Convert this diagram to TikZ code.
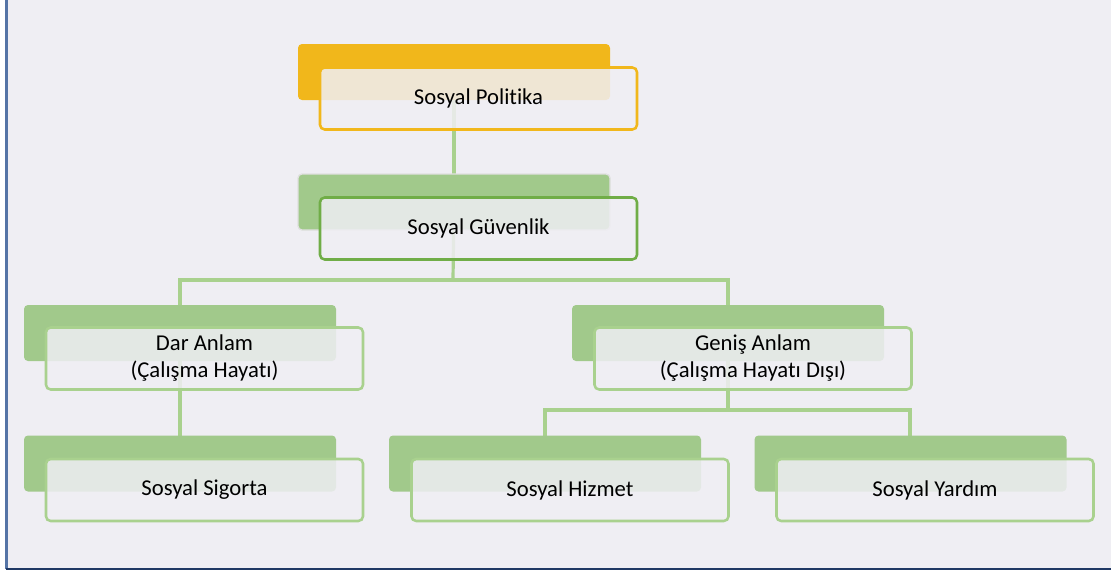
\documentclass[tikz,border=0pt]{standalone}
\usepackage{fontspec}
\setmainfont[Ligatures=NoCommon]{Carlito}
\usetikzlibrary{calc}
\definecolor{canvas}{HTML}{EFEEF3}
\definecolor{gold}{HTML}{F1B71B}
\definecolor{leaf}{HTML}{A1C98B}
\definecolor{leafline}{HTML}{A9D18E}
\definecolor{leafdark}{HTML}{70AD47}
\definecolor{frameblue}{HTML}{5574A6}
\definecolor{framenavy}{HTML}{1F3864}
\tikzset{
  backbox/.style={rectangle, rounded corners=3pt, inner sep=0pt,
    minimum width=234pt, minimum height=42pt, fill=#1},
  frontbox/.style={rectangle, rounded corners=3.5pt, inner sep=0pt,
    minimum width=237.75pt, minimum height=46.5pt, draw=#1, line width=1.9pt,
    fill=canvas, fill opacity=0.86, text opacity=1, align=center,
    font=\fontsize{17}{20.25}\selectfont, text=black},
  link/.style={draw=leafline, line width=2.4pt},
}
\begin{document}
\begin{tikzpicture}[x=0.75pt,y=-0.75pt]
  % page frame
  \useasboundingbox (0,0) rectangle (1111,571);
  \fill[white] (0,0) rectangle (1111,571);
  \fill[canvas] (7,0) rectangle (1111,568);
  \draw[frameblue, line width=1.6pt] (6.5,0) -- (6.5,569);
  \draw[framenavy, line width=1.6pt] (6,569) -- (1111,569);

  % junction points of the connectors
  \coordinate (j1) at (453,280);
  \coordinate (j2) at (728,410);

  % connectors (drawn first, the boxes sit on top)
  \path[link] (454,72) -- (454,202);
  \path[link] (454,202) -- (j1);
  \path[link] (180,333) |- (j1) -| (728,333);
  \path[link] (180,333) -- (180,463);
  \path[link] (728,333) -- (j2);
  \path[link] (545,463) |- (j2) -| (910,463);

  % Sosyal Politika
  \node[backbox=gold] (pb) at (454,72) {};
  \node[frontbox=gold] (pf) at (478.5,98.5) {Sosyal Politika};

  % Sosyal Güvenlik
  \node[backbox=leaf, draw=black!12, line width=1pt] (gb) at (454,202) {};
  \node[frontbox=leafdark] (gf) at (478.5,228.5) {Sosyal Güvenlik};

  % Dar Anlam
  \node[backbox=leaf] (db) at (180,333) {};
  \node[frontbox=leafline] (df) at (204.5,358.5) {Dar Anlam\\(Çalışma Hayatı)};

  % Geniş Anlam
  \node[backbox=leaf] (nb) at (728,333) {};
  \node[frontbox=leafline] (nf) at (753,358.5) {Geniş Anlam\\(Çalışma Hayatı Dışı)};

  % Sosyal Sigorta
  \node[backbox=leaf] (sb) at (180,463.5) {};
  \node[frontbox=leafline] (sf) at (204.5,490) {Sosyal Sigorta};

  % Sosyal Hizmet
  \node[backbox=leaf] (hb) at (545,463.5) {};
  \node[frontbox=leafline] (hf) at (570,490) {Sosyal Hizmet};

  % Sosyal Yardım
  \node[backbox=leaf] (yb) at (910.5,463.5) {};
  \node[frontbox=leafline] (yf) at (935,490) {Sosyal Yardım};
\end{tikzpicture}
\end{document}
